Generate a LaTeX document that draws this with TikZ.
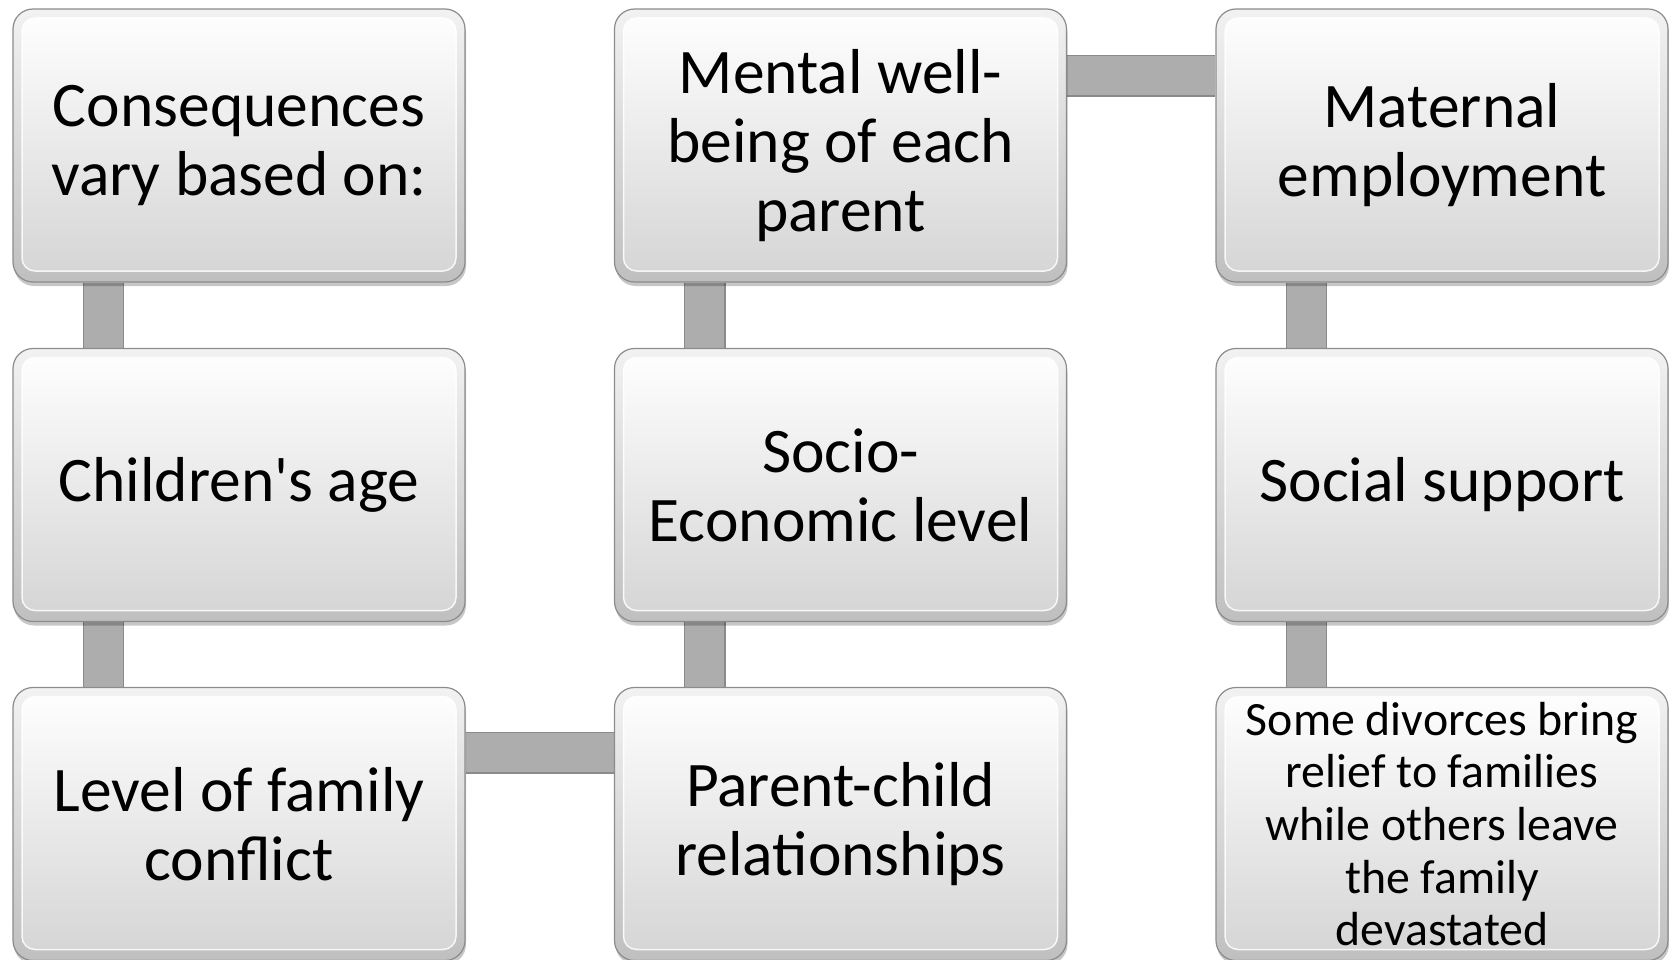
\documentclass[tikz,border=0pt]{standalone}
\usepackage{fontspec}
\setmainfont{Carlito}[Ligatures=TeXOff]
\usetikzlibrary{shadows,backgrounds}
\definecolor{boxline}{HTML}{8C8C8C}
\definecolor{outerbot}{HTML}{BFBFBF}
\definecolor{outertop}{HTML}{F2F2F2}
\definecolor{innerbot}{HTML}{D4D4D4}
\definecolor{connfill}{HTML}{ADADAD}
\definecolor{connline}{HTML}{8A8A8A}
\newcommand{\bigtxt}{\fontsize{63.5pt}{69pt}\selectfont}
\newcommand{\smalltxt}{\fontsize{47.8pt}{52.7pt}\selectfont}
\tikzset{
  box/.style={rounded corners=20pt, minimum width=452pt, minimum height=273pt,
    inner sep=0pt, draw=boxline, line width=1.2pt,
    top color=outertop, bottom color=outerbot,
    drop shadow={shadow xshift=1pt, shadow yshift=-4pt, opacity=0.22, fill=black},
    align=center, font=\bigtxt, text=black,
    path picture={
      \shade[rounded corners=13pt, top color=white, bottom color=innerbot]
        ([shift={(9pt,-9pt)}]path picture bounding box.north west) rectangle
        ([shift={(-9pt,11pt)}]path picture bounding box.south east);
      \draw[rounded corners=13pt, white, line width=1.5pt, opacity=0.85]
        ([shift={(9pt,-9pt)}]path picture bounding box.north west) rectangle
        ([shift={(-9pt,11pt)}]path picture bounding box.south east);
    }},
  conn/.style={draw=connline, line width=1.4pt, double=connfill, double distance=39pt}
}
\begin{document}
\begin{tikzpicture}[x=1pt, y=-1pt]
\useasboundingbox (0,0) rectangle (1669,960);
\node[box] (b1) at (239,145.5) {Consequences\\vary based on:};
\node[box] (b2) at (239,485) {Children's age};
\node[box] (b3) at (239,824) {Level of family\\conflict};
\node[box] (b4) at (840.5,824) {Parent-child\\relationships};
\node[box] (b5) at (840.5,485) {Socio-\\Economic level};
\node[box] (b6) at (840.5,145.5) {Mental well-\\being of each\\parent};
\node[box] (b7) at (1442,145.5) {Maternal\\employment};
\node[box] (b8) at (1442,485) {Social support};
\node[box, font=\smalltxt] (b9) at (1442,824) {Some divorces bring\\relief to families\\while others leave\\the family\\devastated};
\begin{scope}[on background layer]
\draw[conn] ([xshift=91pt]b1.south west) -- ([xshift=91pt]b2.north west);
\draw[conn] ([xshift=91pt]b2.south west) -- ([xshift=91pt]b3.north west);
\draw[conn] ([yshift=-66pt]b3.north east) -- ([yshift=-66pt]b4.north west);
\draw[conn] ([xshift=91pt]b4.north west) -- ([xshift=91pt]b5.south west);
\draw[conn] ([xshift=91pt]b5.north west) -- ([xshift=91pt]b6.south west);
\draw[conn] ([yshift=-67.5pt]b6.north east) -- ([yshift=-67.5pt]b7.north west);
\draw[conn] ([xshift=91pt]b7.south west) -- ([xshift=91pt]b8.north west);
\draw[conn] ([xshift=91pt]b8.south west) -- ([xshift=91pt]b9.north west);
\end{scope}
\end{tikzpicture}
\end{document}
